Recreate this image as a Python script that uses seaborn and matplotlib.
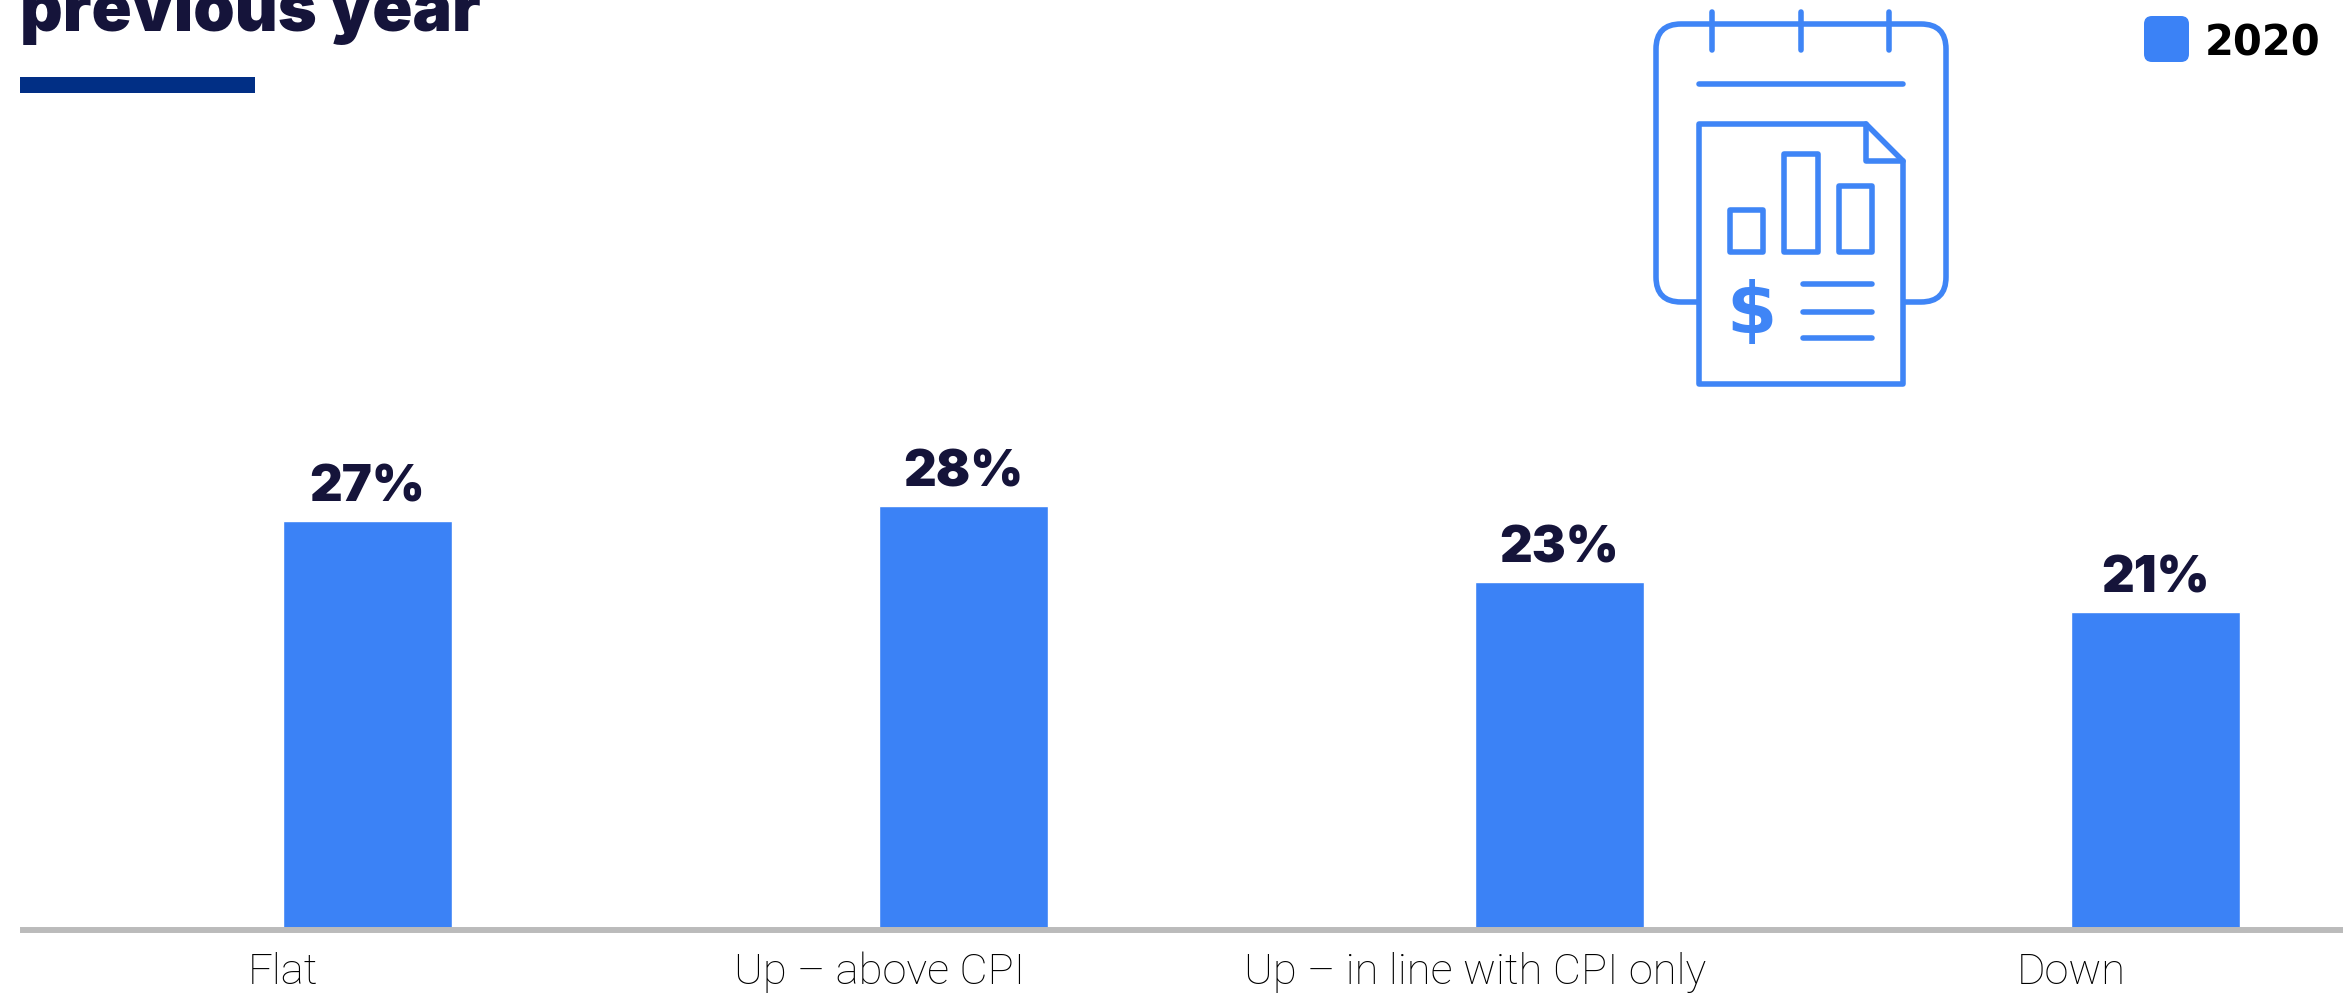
#! /usr/bin/python3

import numpy as np
from matplotlib import pyplot as plt
from matplotlib.patches import FancyBboxPatch, Polygon, Rectangle
import seaborn as sns

categories = ["Flat", "Up – above CPI", "Up – in line with CPI only", "Down"]
values = [27, 28, 23, 21]
value_labels = ["27%", "28%", "23%", "21%"]
series_name = "2020"
title_text = "previous year"

BLUE = "#3b82f6"
ICON = "#3f85f6"
DARK = "#15143a"
W, H = 2343, 995
BASE = 931

sns.set_style("white")
plt.rcParams['font.family'] = ['Inter', 'DejaVu Sans']

fig = plt.figure(figsize=(W / 100, H / 100), dpi=100)
ax = fig.add_axes([23 / W, (H - BASE) / H, (W - 23) / W, BASE / H])

bar_width = 0.282
sns.barplot(x=categories, y=values, color=BLUE, width=bar_width, saturation=1, ax=ax)

ax.set_xlim(-0.578, 3.3146)
ax.set_ylim(0, BASE / 15.14)
ax.set_yticks([])
ax.set_ylabel("")

# labels sit at the left edge of each bar, as in the original
ax.set_xticks(np.arange(len(categories)) - bar_width / 2, labels=categories)
ax.tick_params(axis="x", length=0, pad=15)
for lab in ax.get_xticklabels():
    lab.set_fontfamily(['Roboto', 'DejaVu Sans'])
    lab.set_fontweight('light')
    lab.set_fontsize(31.3)
    lab.set_color('black')

ax.bar_label(ax.containers[0], labels=value_labels, padding=7.5, fontsize=36.5,
             fontweight='black', color=DARK)

sns.despine(ax=ax, left=True)
ax.spines['bottom'].set_color('#bbbbbb')
ax.spines['bottom'].set_linewidth(4.3)
ax.spines['bottom'].set_zorder(5)

# overlay in pixel coordinates for the title rule, legend and icon
ov = fig.add_axes([0, 0, 1, 1], facecolor='none')
ov.set_xlim(0, W)
ov.set_ylim(H, 0)
ov.axis('off')

ov.text(20, 31, title_text, fontsize=47.8, fontweight='black', color=DARK, va='baseline')
ov.add_patch(Rectangle((20, 78), 235, 16, color='#012f85', lw=0))

ov.add_patch(FancyBboxPatch((2150, 23), 33, 34, boxstyle="round,pad=6,rounding_size=8",
                            fc=BLUE, ec='none'))
ov.text(2205, 55, series_name, fontsize=30, fontweight='bold', family='DejaVu Sans',
        color='black', va='baseline')

lw = 4.0
dy = 1
kw = dict(color=ICON, lw=lw, solid_capstyle='round', solid_joinstyle='round')
ov.add_patch(FancyBboxPatch((1656, 24 + dy), 290, 278, boxstyle="round,pad=0,rounding_size=25",
                            fc='white', ec=ICON, lw=lw))
for px in [1712, 1801, 1889]:
    ov.plot([px, px], [12 + dy, 50 + dy], **kw)
ov.plot([1699, 1903], [84 + dy, 84 + dy], **kw)
ov.add_patch(Polygon([(1699, 124 + dy), (1866, 124 + dy), (1903, 161 + dy), (1903, 384 + dy), (1699, 384 + dy)],
                     closed=True, fc='white', ec=ICON, lw=lw, joinstyle='round'))
ov.plot([1866, 1866, 1903], [124 + dy, 161 + dy, 161 + dy], **kw)
for x0, x1, y0 in [(1730, 1763, 210), (1784, 1818, 154), (1839, 1872, 186)]:
    ov.add_patch(Rectangle((x0, y0 + dy), x1 - x0, 252 - y0, fc='none', ec=ICON, lw=lw,
                           joinstyle='round'))
for py in [284, 312, 338]:
    ov.plot([1803, 1872], [py + dy, py + dy], **kw)
ov.text(1751, 312 + dy, "$", fontsize=52, fontweight='bold', color=ICON, ha='center',
        va='center', family='DejaVu Sans')
ov.set_xlim(0, W)
ov.set_ylim(H, 0)

fig.savefig("out.png", dpi=100)
